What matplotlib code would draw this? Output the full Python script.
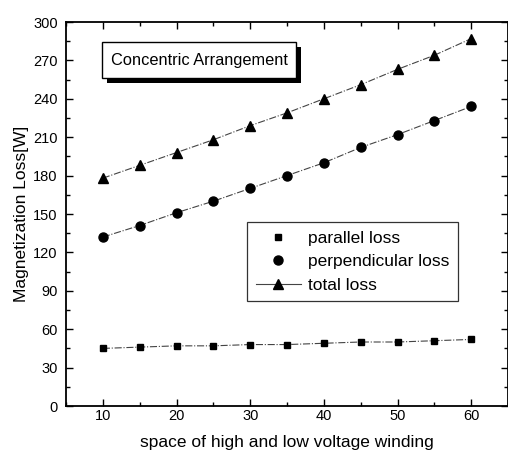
import matplotlib
matplotlib.use("Agg")
import matplotlib.pyplot as plt
from matplotlib.ticker import MultipleLocator
from matplotlib.lines import Line2D
from matplotlib.patches import Rectangle

plt.rcParams['font.family'] = ['Liberation Sans', 'DejaVu Sans']

spacing = [10, 15, 20, 25, 30, 35, 40, 45, 50, 55, 60]
parallel_loss = [45, 46, 47, 47, 48, 48, 49, 50, 50, 51, 52]
perpendicular_loss = [132, 141, 151, 160, 170, 180, 190, 202, 212, 223, 234]
total_loss = [178, 188, 198, 208, 219, 229, 240, 251, 263, 274, 287]

W, H = 508, 462
fig = plt.figure(figsize=(W/100, H/100), dpi=100)
ax_l, ax_r, ax_t, ax_b = 66, 508, 22, 406
ax = fig.add_axes([ax_l/W, 1-ax_b/H, (ax_r-ax_l)/W, (ax_b-ax_t)/H])

def axfrac(px, py):
    return (px-ax_l)/(ax_r-ax_l), (ax_b-py)/(ax_b-ax_t)

line_kw = dict(color='#444444', lw=0.8, linestyle='-.')
ax.plot(spacing, parallel_loss, marker='s', ms=5, mfc='black', mec='black', **line_kw)
ax.plot(spacing, perpendicular_loss, marker='o', ms=6.5, mfc='black', mec='black', **line_kw)
ax.plot(spacing, total_loss, marker='^', ms=7.5, mfc='black', mec='black', **line_kw)

ax.set_xlim(5, 65)
ax.set_ylim(0, 300)
ax.xaxis.set_major_locator(MultipleLocator(10))
ax.xaxis.set_minor_locator(MultipleLocator(5))
ax.yaxis.set_major_locator(MultipleLocator(30))
ax.yaxis.set_minor_locator(MultipleLocator(15))
ax.tick_params(which='both', direction='in', top=True, right=True, labelsize=10.5, width=1)
ax.tick_params(which='major', length=5)
ax.tick_params(axis='y', which='major', pad=6)
ax.tick_params(axis='x', which='major', pad=2)
ax.tick_params(which='minor', length=3)
for s in ax.spines.values():
    s.set_linewidth(1.3)

ax.set_xlabel('space of high and low voltage winding', fontsize=12.5, labelpad=9)
ax.set_ylabel('Magnetization Loss[W]', fontsize=12.5, labelpad=3)

handles = [
    Line2D([], [], linestyle='none', marker='s', ms=5, color='black'),
    Line2D([], [], linestyle='none', marker='o', ms=6.5, color='black'),
    Line2D([], [], linestyle='-', lw=0.8, color='#444444', marker='^', ms=7.5, mfc='black', mec='black'),
]
leg = ax.legend(handles, ['parallel loss', 'perpendicular loss', 'total loss'],
                loc='upper left', bbox_to_anchor=axfrac(247, 222),
                fontsize=12.5, frameon=True, fancybox=False, edgecolor='black',
                handlelength=2.6, handletextpad=0.4, borderpad=0.5, labelspacing=0.48,
                borderaxespad=0)
leg.get_frame().set_linewidth(0.9)

# text box with shadow
bx0, by0 = axfrac(102, 78)
bx1, by1 = axfrac(296, 42)
sx0, sy0 = axfrac(107, 83)
ax.add_patch(Rectangle((sx0, sy0), bx1-bx0, by1-by0, transform=ax.transAxes,
                       fc='black', ec='none', zorder=4, clip_on=False))
ax.add_patch(Rectangle((bx0, by0), bx1-bx0, by1-by0, transform=ax.transAxes,
                       fc='white', ec='black', lw=1.0, zorder=5, clip_on=False))
ax.text((bx0+bx1)/2, (by0+by1)/2, 'Concentric Arrangement', transform=ax.transAxes,
        fontsize=11.8, va='center', ha='center', zorder=6)

fig.savefig('out.png', dpi=100)
